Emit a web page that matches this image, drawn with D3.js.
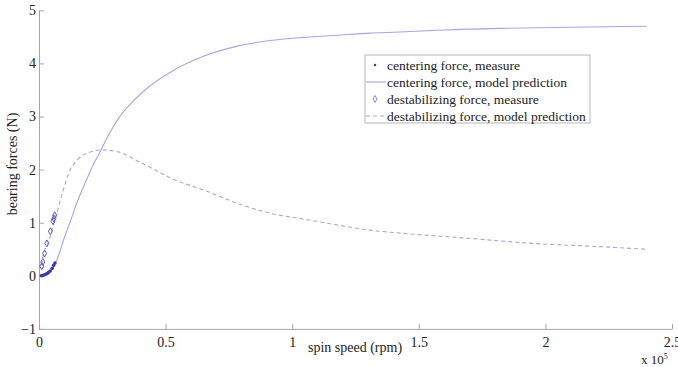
<!DOCTYPE html>
<html>
<head>
<meta charset="utf-8">
<script src="https://cdn.jsdelivr.net/npm/d3@7"></script>
<style>
  body { margin: 0; background: #fff; }
  svg text { font-family: "Liberation Serif", "Times New Roman", "DejaVu Serif", serif; }
</style>
</head>
<body>
<svg id="chart" width="678" height="367"></svg>
<script>
// spin speed (rpm) / force (N)
const centerMeasRpm = [900, 1600, 2300, 3000, 3700, 4400, 5200, 5800, 6300];
const centerMeasVal = [0.0, 0.01, 0.02, 0.04, 0.06, 0.09, 0.14, 0.2, 0.24];

const destabMeasRpm = [1100, 1500, 2200, 3100, 4500, 5500, 5900, 6200];
const destabMeasVal = [0.18, 0.26, 0.42, 0.61, 0.84, 1.03, 1.08, 1.14];

const centerModelRpm = [0, 2500, 4500, 6300, 8000, 10000, 12200, 15000, 18000, 21000, 24300, 28000, 31600,
  36800, 43400, 51700, 64700, 78000, 91100, 104300, 117500, 130600, 142500, 160000, 181900, 210000, 240000];
const centerModelVal = [0, 0.01, 0.08, 0.22, 0.42, 0.72, 1.0, 1.38, 1.72, 2.05, 2.35, 2.7, 2.98,
  3.27, 3.56, 3.83, 4.13, 4.32, 4.43, 4.49, 4.53, 4.57, 4.59, 4.63, 4.66, 4.68, 4.7];

const destabModelRpm = [1000, 1300, 3950, 6600, 9200, 11700, 15700, 19600, 25000, 31600, 39500, 47200,
  53000, 64800, 78000, 91100, 104300, 117500, 130600, 143800, 168700, 195100, 221300, 240000];
const destabModelVal = [0.2, 0.3, 0.67, 1.11, 1.55, 1.93, 2.21, 2.32, 2.37, 2.33, 2.15, 1.96,
  1.82, 1.62, 1.37, 1.18, 1.07, 0.96, 0.86, 0.8, 0.71, 0.61, 0.55, 0.5];

const xTicks = [0, 50000, 100000, 150000, 200000, 250000];
const xTickLabels = ['0', '0.5', '1', '1.5', '2', '2.5'];
const yTicks = [-1, 0, 1, 2, 3, 4, 5];

const legendLabels = [
  'centering force, measure',
  'centering force, model prediction',
  'destabilizing force, measure',
  'destabilizing force, model prediction'
];

const svg = d3.select('#chart');
const font = '"Liberation Serif", "Times New Roman", serif';
const axisColor = '#a6a6a6';
const lineColor = '#a6a6e6';
const markColor = '#3a3aa8';

const x = d3.scaleLinear().domain([0, 250000]).range([39, 672]);
const y = d3.scaleLinear().domain([-1, 5]).range([328.9, 10.3]);

// axes (left + bottom only, ticks pointing inward)
const xAxis = svg.append('g').attr('transform', `translate(0,${y(-1)})`)
  .call(d3.axisBottom(x).tickValues(xTicks).tickSize(-5).tickSizeOuter(0).tickFormat((d, i) => xTickLabels[i]));
const yAxis = svg.append('g').attr('transform', `translate(${x(0)},0)`)
  .call(d3.axisLeft(y).tickValues(yTicks).tickSize(-5).tickSizeOuter(0).tickFormat(d => d < 0 ? '\u2212' + Math.abs(d) : d));

[xAxis, yAxis].forEach(g => {
  g.attr('font-family', font).attr('font-size', 14);
  g.select('.domain').attr('stroke', axisColor);
  g.selectAll('.tick line').attr('stroke', axisColor);
  g.selectAll('.tick text').attr('fill', '#222');
});
xAxis.selectAll('.tick text').attr('dy', '1.05em').attr('y', 3);
yAxis.selectAll('.tick text').attr('x', -3);

// axis titles
svg.append('text').attr('x', 355).attr('y', 352).attr('text-anchor', 'middle')
  .attr('font-family', font).attr('font-size', 14).attr('fill', '#222').text('spin speed (rpm)');
svg.append('text').attr('transform', 'translate(17,164) rotate(-90)').attr('text-anchor', 'middle')
  .attr('font-family', font).attr('font-size', 14).attr('fill', '#222').text('bearing forces (N)');
const exp = svg.append('text').attr('x', 641).attr('y', 364).attr('font-family', font)
  .attr('font-size', 13).attr('fill', '#222');
exp.append('tspan').text('x 10');
exp.append('tspan').attr('dy', -5).attr('font-size', 8).text('5');

// model curves
const line = d3.line().x(d => x(d[0])).y(d => y(d[1])).curve(d3.curveMonotoneX);

svg.append('path')
  .datum(d3.zip(centerModelRpm, centerModelVal))
  .attr('fill', 'none').attr('stroke', lineColor).attr('stroke-width', 1.1)
  .attr('d', line);

svg.append('path')
  .datum(d3.zip(destabModelRpm, destabModelVal))
  .attr('fill', 'none').attr('stroke', lineColor).attr('stroke-width', 1.1)
  .attr('stroke-dasharray', '4,3')
  .attr('d', line);

// measured points
svg.append('g').selectAll('circle')
  .data(d3.zip(centerMeasRpm, centerMeasVal))
  .join('circle')
  .attr('cx', d => x(d[0])).attr('cy', d => y(d[1])).attr('r', 1.8)
  .attr('fill', markColor);

const diamond = d3.symbol().type(d3.symbolDiamond).size(14);
svg.append('g').selectAll('path')
  .data(d3.zip(destabMeasRpm, destabMeasVal))
  .join('path')
  .attr('transform', d => `translate(${x(d[0])},${y(d[1])})`)
  .attr('d', diamond)
  .attr('fill', 'none').attr('stroke', '#5a5ac0').attr('stroke-width', 1);

// legend
const lg = svg.append('g').attr('font-family', font);
lg.append('rect').attr('x', 365).attr('y', 55).attr('width', 225).attr('height', 68)
  .attr('fill', '#fff').attr('stroke', '#b5b5b5').attr('stroke-width', 1);
const rowY = [65, 82, 99, 116];
legendLabels.forEach((t, i) => {
  lg.append('text').attr('x', 387).attr('y', rowY[i]).attr('dy', '0.35em')
    .attr('font-size', 13.5).attr('fill', '#222').text(t);
});
lg.append('circle').attr('cx', 375).attr('cy', rowY[0]).attr('r', 1.2).attr('fill', markColor);
lg.append('line').attr('x1', 366).attr('x2', 386).attr('y1', rowY[1]).attr('y2', rowY[1])
  .attr('stroke', lineColor).attr('stroke-width', 1.1);
lg.append('path').attr('transform', `translate(375,${rowY[2]})`).attr('d', diamond)
  .attr('fill', 'none').attr('stroke', '#8a8ad8').attr('stroke-width', 1);
lg.append('line').attr('x1', 366).attr('x2', 386).attr('y1', rowY[3]).attr('y2', rowY[3])
  .attr('stroke', lineColor).attr('stroke-width', 1.1).attr('stroke-dasharray', '4,3');
</script>
</body>
</html>
